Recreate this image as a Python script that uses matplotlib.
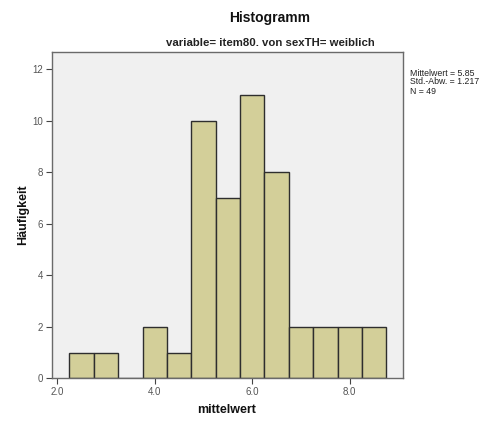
import numpy as np
import matplotlib
matplotlib.use("Agg")
import matplotlib.pyplot as plt

plt.rcParams["font.family"] = ["Liberation Sans", "DejaVu Sans"]

# Histogram of "mittelwert" (bin width 0.5)
bin_edges = [2.25, 2.75, 3.25, 3.75, 4.25, 4.75, 5.25, 5.75, 6.25, 6.75, 7.25, 7.75, 8.25, 8.75]
counts = [1, 1, 0, 2, 1, 10, 7, 11, 8, 2, 2, 2, 2]
x_ticks = [2.0, 4.0, 6.0, 8.0]
x_tick_labels = ["2.0", "4.0", "6.0", "8.0"]
y_ticks = [0, 2, 4, 6, 8, 10, 12]
stats_lines = ["Mittelwert = 5.85", "Std.-Abw. = 1.217", "N = 49"]

fig = plt.figure(figsize=(4.86, 4.22), dpi=100)
W, H = 486, 422
ax = fig.add_axes([51.7 / W, 1 - 378.3 / H, (403.3 - 51.7) / W, (378.3 - 52.3) / H])
ax.set_facecolor("#f0f0f0")

lefts = np.array(bin_edges[:-1])
widths = np.diff(bin_edges)
ax.bar(lefts, counts, width=widths, align="edge", color="#d3cf99",
       edgecolor="#2e2e2e", linewidth=1.0)

ax.set_xlim(1.885, 9.1)
ax.set_ylim(0, 12.65)
ax.set_xticks(x_ticks)
ax.set_xticklabels(x_tick_labels)
ax.set_yticks(y_ticks)
ax.tick_params(axis="both", direction="out", length=4, width=0.8,
               color="#444444", labelsize=7, labelcolor="#555555", pad=2)
for s in ax.spines.values():
    s.set_color("#6a6a6a")
    s.set_linewidth(1.0)

fig.text(270 / W, 1 - 18 / H, "Histogramm", ha="center", va="center",
         fontsize=10, fontweight="bold", color="#111111")
fig.text(270 / W, 1 - 43 / H, "variable= item80. von sexTH= weiblich", ha="center",
         va="center", fontsize=8.2, fontweight="bold", color="#222222")
fig.text(22.7 / W, 1 - 215 / H, "Häufigkeit", ha="center", va="center",
         rotation=90, fontsize=9, fontweight="bold", color="#111111")
fig.text(227 / W, 1 - 410 / H, "mittelwert", ha="center", va="center",
         fontsize=9, fontweight="bold", color="#111111")

for i, line in enumerate(stats_lines):
    fig.text(410 / W, 1 - (73 + 9 * i) / H, line, ha="left", va="center",
             fontsize=6.3, color="#222222")

fig.savefig("out.png", dpi=100)
